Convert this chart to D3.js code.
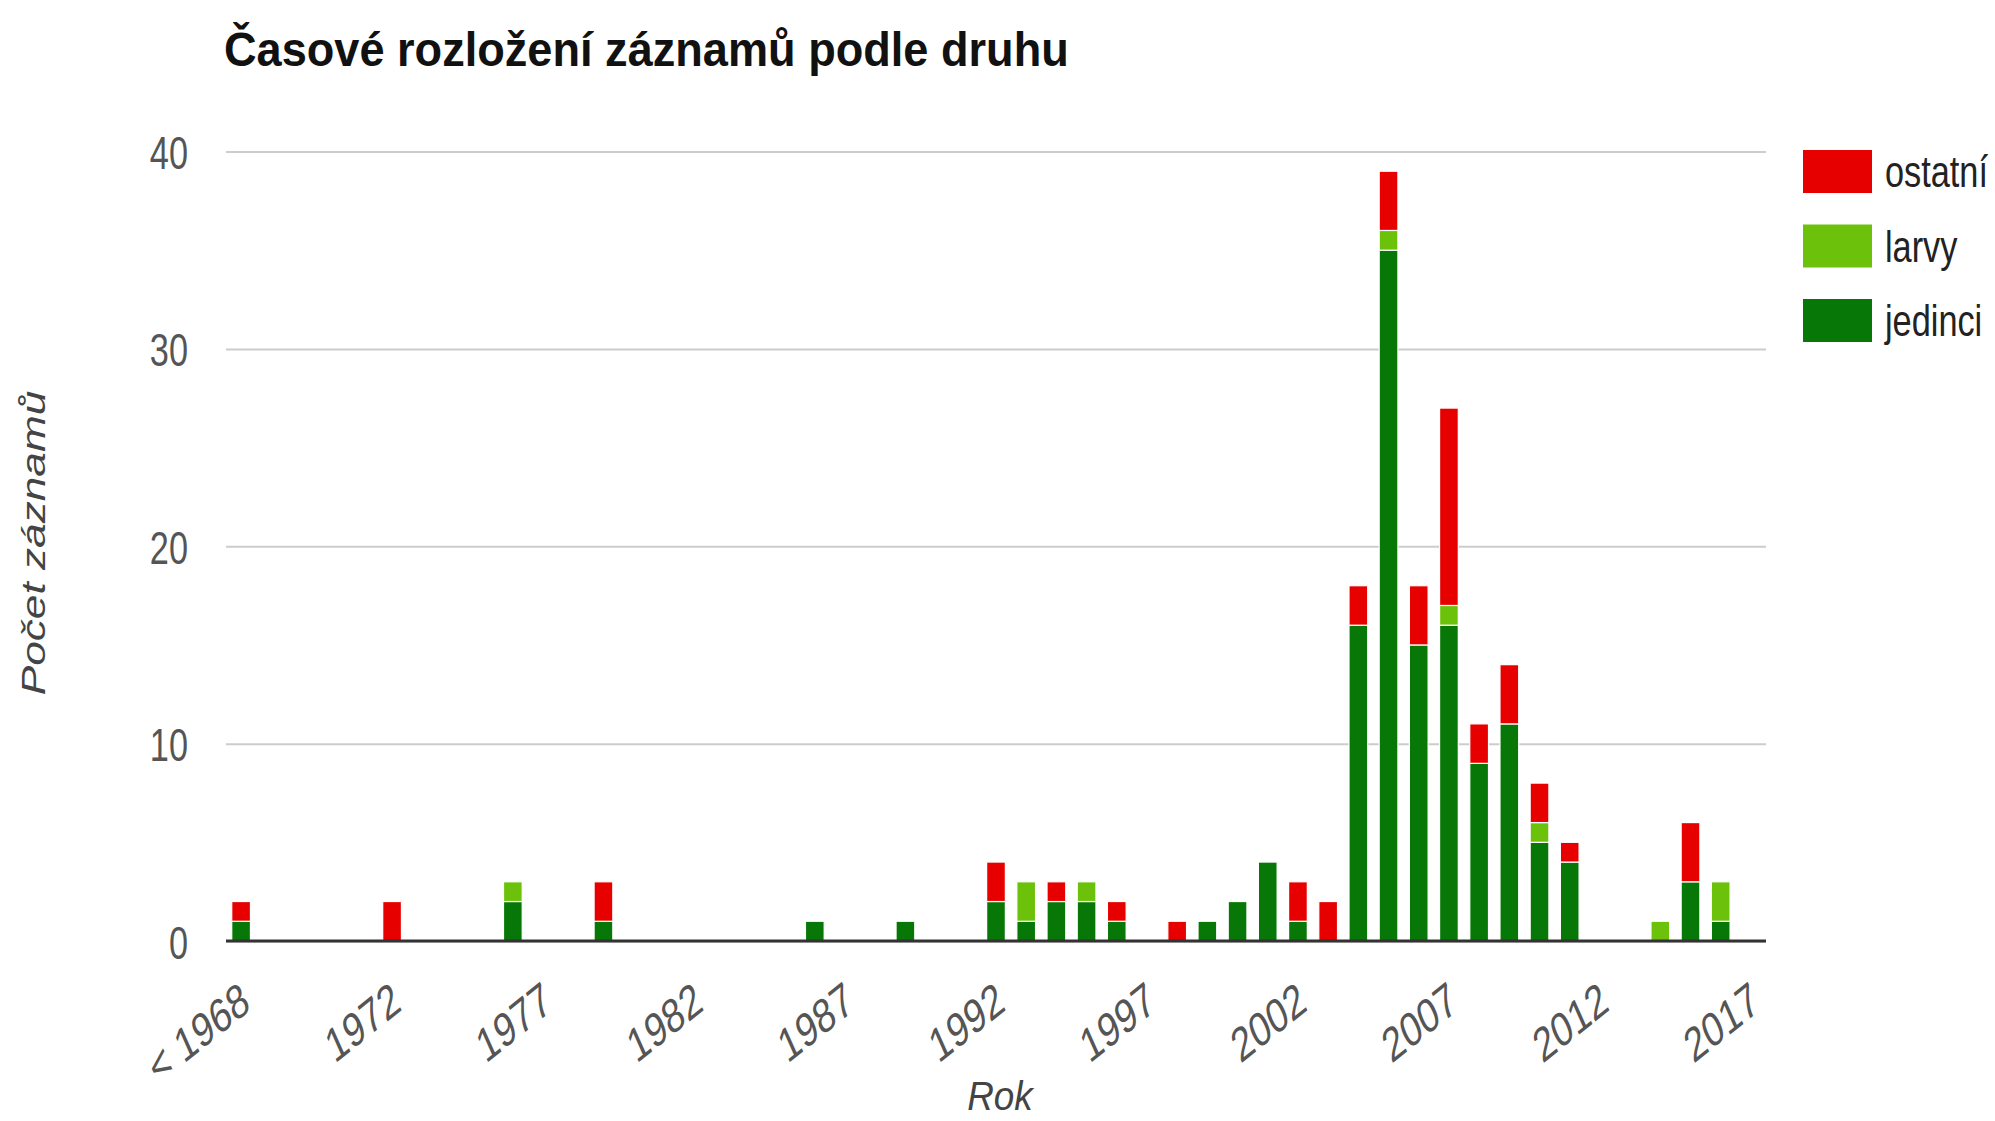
<!DOCTYPE html>
<html>
<head>
<meta charset="utf-8">
<script src="https://cdn.jsdelivr.net/npm/d3@7"></script>
<style>
  html, body { margin: 0; padding: 0; background: #fff; }
  svg { display: block; font-family: "Liberation Sans", Arial, sans-serif; }
</style>
</head>
<body>
<svg id="chart" width="1995" height="1121"></svg>
<script>
// ---- data ----
const categories = ["< 1968","1968","1969","1970","1971","1972","1973","1974","1975","1976",
  "1977","1978","1979","1980","1981","1982","1983","1984","1985","1986",
  "1987","1988","1989","1990","1991","1992","1993","1994","1995","1996",
  "1997","1998","1999","2000","2001","2002","2003","2004","2005","2006",
  "2007","2008","2009","2010","2011","2012","2013","2014","2015","2016","2017"];
const jedinci = [1,0,0,0,0,0,0,0,0,2, 0,0,1,0,0,0,0,0,0,1, 0,0,1,0,0,2,1,2,2,1, 0,0,1,2,4,1,0,16,35,15, 16,9,11,5,4,0,0,0,3,1,0];
const larvy   = [0,0,0,0,0,0,0,0,0,1, 0,0,0,0,0,0,0,0,0,0, 0,0,0,0,0,0,2,0,1,0, 0,0,0,0,0,0,0,0,1,0, 1,0,0,1,0,0,0,1,0,2,0];
const ostatni = [1,0,0,0,0,2,0,0,0,0, 0,0,2,0,0,0,0,0,0,0, 0,0,0,0,0,2,0,1,0,1, 0,1,0,0,0,2,2,2,3,3, 10,2,3,2,1,0,0,0,3,0,0];
const xTickLabels = ["< 1968","1972","1977","1982","1987","1992","1997","2002","2007","2012","2017"];
const yTicks = [0,10,20,30,40];
const seriesKeys = ["jedinci","larvy","ostatni"];
const seriesNames = {jedinci:"jedinci", larvy:"larvy", ostatni:"ostatní"};
const legendOrder = ["ostatni","larvy","jedinci"];
const title = "Časové rozložení záznamů podle druhu";
const xTitle = "Rok";
const yTitle = "Počet záznamů";

// ---- layout ----
const colors = {jedinci:"#077807", larvy:"#6cc20a", ostatni:"#e60000"};
const plot = {left:226, right:1766, top:151.5, bottom:941};
const svg = d3.select("#chart");

const rows = categories.map((c,i)=>({cat:c, jedinci:jedinci[i], larvy:larvy[i], ostatni:ostatni[i]}));
const stacked = d3.stack().keys(seriesKeys)(rows);

const x = d3.scaleBand().domain(categories).range([plot.left, plot.right])
  .paddingInner(0.38).paddingOuter(0.19);
const y = d3.scaleLinear().domain([0,40]).range([plot.bottom, plot.top]);

// gridlines + y labels
const yAxis = svg.append("g").attr("transform",`translate(${plot.left},0)`)
  .call(d3.axisLeft(y).tickValues(yTicks).tickSize(-(plot.right-plot.left)).tickFormat(d3.format("d")));
yAxis.select(".domain").remove();
yAxis.selectAll(".tick line").attr("stroke","#cccccc").attr("stroke-width",2);
yAxis.selectAll(".tick text")
  .attr("x",null).attr("dy",null)
  .attr("transform","translate(-38,17) scale(0.73,1)")
  .attr("text-anchor","end")
  .attr("fill","#555").style("font-size","47px");

// bars
svg.append("g").selectAll("g").data(stacked).join("g")
  .attr("fill", d=>colors[d.key])
  .selectAll("rect").data(d=>d.filter(s=>s[1]-s[0]>0)).join("rect")
  .attr("x", d=>x(d.data.cat))
  .attr("width", x.bandwidth())
  .attr("y", d=>y(d[1]))
  .attr("height", d=>y(d[0])-y(d[1]))
  .attr("stroke","#ffffff").attr("stroke-width",1.2);

// baseline + x labels
const xAxis = svg.append("g").attr("transform",`translate(0,${plot.bottom})`)
  .call(d3.axisBottom(x).tickValues(xTickLabels).tickSize(0));
xAxis.select(".domain").attr("stroke","#333").attr("stroke-width",3)
  .attr("d",`M${plot.left},0H${plot.right}`);
xAxis.selectAll(".tick text")
  .attr("y",null).attr("dy",null)
  .attr("text-anchor","end")
  .attr("transform","translate(11,68) scale(0.97,1.3) rotate(-31)")
  .attr("fill","#555").style("font-size","37px");

// title
svg.append("text").text(title)
  .attr("transform","translate(224,66) scale(0.94,1)")
  .attr("font-weight","bold").style("font-size","48px").attr("fill","#111");

// axis titles
svg.append("text").text(xTitle)
  .attr("transform","translate(1000,1110) scale(0.9,1)")
  .attr("text-anchor","middle").attr("font-style","italic")
  .style("font-size","41px").attr("fill","#444");
svg.append("text").text(yTitle)
  .attr("transform","translate(45,543) rotate(-90) scale(1.3,1)")
  .attr("text-anchor","middle").attr("font-style","italic")
  .style("font-size","34px").attr("fill","#444");

// legend
const lg = svg.append("g").selectAll("g").data(legendOrder).join("g")
  .attr("transform",(d,i)=>`translate(1803,${150+i*74.5})`);
lg.append("rect").attr("width",69).attr("height",43).attr("fill",d=>colors[d]);
lg.append("text").text(d=>seriesNames[d])
  .attr("transform","translate(82,37) scale(0.78,1)")
  .style("font-size","44px").attr("fill","#222");
</script>
</body>
</html>
